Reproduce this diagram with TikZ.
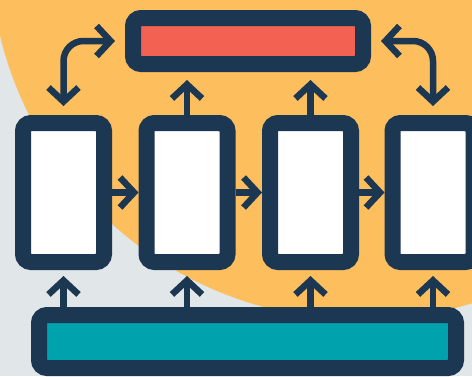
\documentclass[tikz,border=0pt]{standalone}
\usetikzlibrary{arrows.meta,calc}
\definecolor{navy}{HTML}{1B3752}
\definecolor{redbar}{HTML}{F26152}
\definecolor{tealbar}{HTML}{00A2AE}
\definecolor{orangebg}{HTML}{FDBE5E}
\definecolor{greybg}{HTML}{E1E6E9}
\begin{document}
\begin{tikzpicture}[x=1pt,y=-1pt,
  frame/.style={draw=navy,line width=16pt,rounded corners=8pt,inner sep=0pt},
  barb/.tip={Straight Barb[length=14pt,width=30pt]},
  conn/.style={draw=navy,line width=6.5pt,-barb},
  dconn/.style={draw=navy,line width=6.5pt,barb-barb,rounded corners=20pt}
]
\useasboundingbox (0,0) rectangle (472,376);
\fill[greybg] (0,0) rectangle (472,376);
\begin{scope}
  \clip (0,0) rectangle (472,376);
  \fill[orangebg] (361.3,-51.6) circle[radius=371.6pt];
\end{scope}
\begin{scope}
  \clip (0,0) rectangle (472,376);
  \node[frame,fill=redbar,minimum width=230pt,minimum height=46pt] (top) at (248,41) {};
  \node[frame,fill=white,minimum width=81pt,minimum height=139pt] (b1) at (63.5,192.5) {};
  \node[frame,fill=white,minimum width=81pt,minimum height=139pt] (b2) at (187,192.5) {};
  \node[frame,fill=white,minimum width=81pt,minimum height=139pt] (b3) at (310.5,192.5) {};
  \node[frame,fill=white,minimum width=81pt,minimum height=139pt] (b4) at (433,192.5) {};
  \node[frame,fill=tealbar,minimum width=417pt,minimum height=53pt] (bot) at (247.5,341.5) {};
  % horizontal chain
  \draw[conn] (b1.east) -- (b2.west);
  \draw[conn] (b2.east) -- (b3.west);
  \draw[conn] (b3.east) -- (b4.west);
  % from bottom bar up
  \draw[conn] (bot.north -| b1) -- ($(b1.south)+(0,6)$);
  \draw[conn] (bot.north -| b2) -- ($(b2.south)+(0,6)$);
  \draw[conn] (bot.north -| b3) -- ($(b3.south)+(0,6)$);
  \draw[conn] (bot.north -| b4) -- ($(b4.south)+(0,6)$);
  % up to top bar
  \draw[conn] (b2.north) -- ($(top.south -| b2)+(0,8)$);
  \draw[conn] (b3.north) -- ($(top.south -| b3)+(0,8)$);
  % curved two-way arrows
  \draw[dconn] ($(top.west)+(-10,0)$) -| ($(b1.north)+(0,-9)$);
  \draw[dconn] ($(top.east)+(10,0)$) -| ($(b4.north)+(0,-9)$);
\end{scope}
\end{tikzpicture}
\end{document}
